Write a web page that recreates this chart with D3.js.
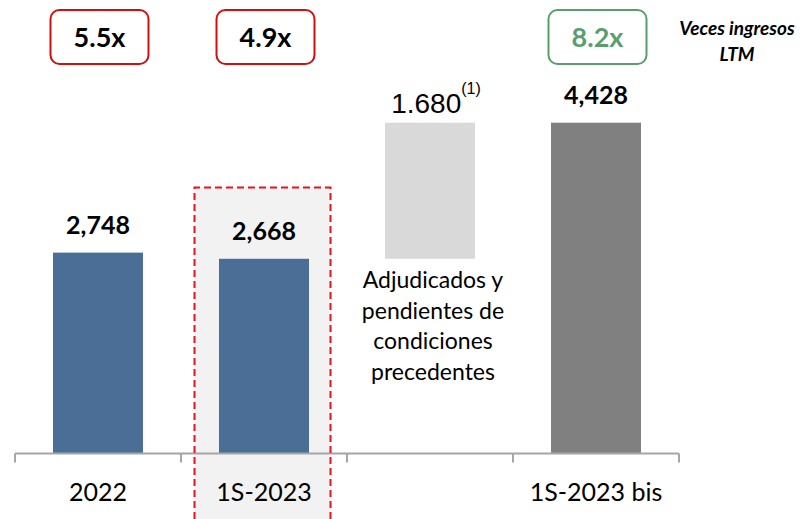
<!DOCTYPE html>
<html lang="es">
<head>
  <meta charset="UTF-8">
  <title>Cartera</title>
  <script src="https://d3js.org/d3.v7.min.js"></script>
  <style>
    body { margin: 0; background: #fff; }
    svg { display: block; }
    .cat text { font-family: Lato, sans-serif; font-size: 25px; fill: #000; }
    .val { font-family: Lato, sans-serif; font-size: 25px; font-weight: 700; }
    .mult { font-family: Lato, sans-serif; font-size: 27px; font-weight: 700; }
    .note { font-family: Lato, sans-serif; font-size: 23px; }
  </style>
</head>
<body>
  <svg width="806" height="519"></svg>
  <script>
    // data
    const categories = ["2022", "1S-2023", "Adjudicados", "1S-2023 bis"];
    const axisLabels = ["2022", "1S-2023", "", "1S-2023 bis"];
    const values = [2748, 2668, null, 4428];
    const barLabels = ["2,748", "2,668", null, "4,428"];
    const floatFrom = 2668, floatTo = 4428, floatLabel = "1.680";
    const multiples = ["5.5x", "4.9x", null, "8.2x"];
    const noteLines = ["Adjudicados y", "pendientes de", "condiciones", "precedentes"];

    const width = 806, height = 519;
    const axisY = 453.5;
    const svg = d3.select("svg");

    const x = d3.scaleBand()
        .domain(categories)
        .range([15, 679]);

    // axis min is not zero in the original
    const y = d3.scaleLinear()
        .domain([150, 4428])
        .range([axisY, 122.7]);

    const barW = 90;
    const cx = c => x(c) + x.bandwidth() / 2;

    // highlight behind 1S-2023
    svg.append("rect")
        .attr("x", 194.5)
        .attr("y", 187.5)
        .attr("width", 136)
        .attr("height", 340)
        .attr("fill", "#f2f2f2");

    // bars
    const colors = ["#4a6e96", "#4a6e96", null, "#808080"];
    svg.append("g")
      .selectAll("rect")
      .data(categories.filter((c, i) => values[i] != null))
      .enter().append("rect")
        .attr("x", c => cx(c) - barW / 2)
        .attr("y", c => y(values[categories.indexOf(c)]))
        .attr("width", barW)
        .attr("height", c => axisY - y(values[categories.indexOf(c)]))
        .attr("fill", c => colors[categories.indexOf(c)]);

    // floating bar
    svg.append("rect")
        .attr("x", cx("Adjudicados") - barW / 2)
        .attr("y", y(floatTo))
        .attr("width", barW)
        .attr("height", y(floatFrom) - y(floatTo))
        .attr("fill", "#d9d9d9");

    // value labels
    svg.append("g")
      .selectAll("text")
      .data(categories.filter((c, i) => values[i] != null))
      .enter().append("text")
        .attr("class", "val")
        .attr("x", c => cx(c))
        .attr("y", c => y(values[categories.indexOf(c)]) - 19)
        .attr("text-anchor", "middle")
        .text(c => barLabels[categories.indexOf(c)]);

    const fl = svg.append("text")
        .attr("x", cx("Adjudicados") + 6)
        .attr("y", 113)
        .attr("text-anchor", "middle")
        .style("font-family", "'Liberation Sans', Arial, sans-serif")
        .style("font-size", "28px");
    fl.append("tspan").text(floatLabel);
    fl.append("tspan")
        .attr("dy", -19)
        .style("font-size", "16px")
        .text("(1)");

    // note under floating bar
    svg.append("text")
        .attr("class", "note")
        .attr("text-anchor", "middle")
      .selectAll("tspan")
      .data(noteLines)
      .enter().append("tspan")
        .attr("x", cx("Adjudicados") + 3)
        .attr("y", (d, i) => 288 + i * 30.5)
        .text(d => d);

    // axis
    const axis = svg.append("g")
        .attr("class", "cat")
        .attr("transform", `translate(0,${axisY})`)
        .call(d3.axisBottom(x)
          .tickSize(0)
          .tickPadding(29.5)
          .tickFormat((d, i) => axisLabels[i]));
    axis.select(".domain").remove();

    axis.append("line")
        .attr("x1", 15).attr("x2", 679)
        .attr("stroke", "#a6a6a6").attr("stroke-width", 2);
    const edges = categories.map(c => x(c)).concat([x.range()[1]]);
    axis.selectAll(".edge")
      .data(edges)
      .enter().append("line")
        .attr("class", "edge")
        .attr("x1", d => d).attr("x2", d => d)
        .attr("y1", 0).attr("y2", 9)
        .attr("stroke", "#a6a6a6").attr("stroke-width", 2);

    // dashed frame
    svg.append("path")
        .attr("d", "M194.5,530V187.5H330.5V530")
        .attr("fill", "none")
        .attr("stroke", "#e8141c")
        .attr("stroke-width", 2)
        .attr("stroke-dasharray", "7,4");

    // multiples boxes
    const boxes = svg.append("g")
      .selectAll("g")
      .data(categories.filter((c, i) => multiples[i] != null))
      .enter().append("g")
        .attr("transform", c => `translate(${cx(c) + 1.5},0)`);

    const boxColor = c => c === "1S-2023 bis" ? "#5a9e6e" : "#d01010";
    boxes.append("rect")
        .attr("x", -49)
        .attr("y", 10)
        .attr("width", 98)
        .attr("height", 54)
        .attr("rx", 9)
        .attr("fill", "#fff")
        .attr("stroke", boxColor)
        .attr("stroke-width", 2);
    boxes.append("text")
        .attr("class", "mult")
        .attr("y", 46.5)
        .attr("text-anchor", "middle")
        .attr("fill", c => c === "1S-2023 bis" ? "#5a9e6e" : "#000")
        .text(c => multiples[categories.indexOf(c)]);

    const lg = svg.append("text")
        .attr("text-anchor", "middle")
        .style("font-family", "Lato, sans-serif")
        .style("font-size", "19px")
        .style("font-weight", 700)
        .style("font-style", "italic");
    lg.append("tspan").attr("x", 737).attr("y", 35).text("Veces ingresos");
    lg.append("tspan").attr("x", 737).attr("y", 61).text("LTM");
  </script>
</body>
</html>
